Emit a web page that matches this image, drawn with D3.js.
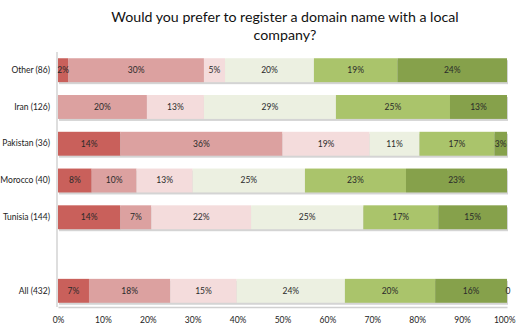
<!DOCTYPE html>
<html>
<head>
<meta charset="utf-8">
<script src="https://cdn.jsdelivr.net/npm/d3@7"></script>
<style>
  html, body { margin: 0; padding: 0; background: #fff; }
  svg { display: block; }
  text { font-family: Lato, "Open Sans", sans-serif; }
</style>
</head>
<body>
<svg id="chart" width="516" height="326"></svg>
<script>
// Row labels (top to bottom); the empty string leaves a gap before the total row
const categories = ["Other (86)", "Iran (126)", "Pakistan (36)", "Morocco (40)", "Tunisia (144)", "", "All (432)"];

// Answer shares in percent, one array per answer level (strongly no ... strongly yes)
const level1 = [2.3, 0, 13.9, 7.5, 13.9, null, 6.9];
const level2 = [30.2, 19.8, 36.1, 10.0, 6.9, null, 18.1];
const level3 = [4.7, 12.7, 19.4, 12.5, 22.2, null, 14.8];
const level4 = [19.8, 29.4, 11.1, 25.0, 25.0, null, 24.1];
const level5 = [18.6, 25.4, 16.7, 22.5, 16.7, null, 20.1];
const level6 = [24.4, 12.7, 2.8, 22.5, 15.3, null, 16.0];
// No-answer share, only reported on the total row
const noAnswer = [null, null, null, null, null, null, 0];

const series = [level1, level2, level3, level4, level5, level6];
const colors = ["#c9605b", "#dca1a0", "#f4dcdc", "#ecf0e1", "#aac46b", "#86a14b"];

const xTicks = [0, 10, 20, 30, 40, 50, 60, 70, 80, 90, 100];

const svg = d3.select("#chart");

const x = d3.scaleLinear().domain([0, 100]).range([58, 507]);
const y = d3.scaleBand().domain(d3.range(categories.length)).range([52, 309]).paddingInner(0.35).paddingOuter(0.17);

// Title
svg.append("text")
  .attr("x", 285).attr("y", 22)
  .attr("text-anchor", "middle")
  .attr("font-size", 14.2).attr("fill", "#111")
  .text("Would you prefer to register a domain name with a local");
svg.append("text")
  .attr("x", 285).attr("y", 40)
  .attr("text-anchor", "middle")
  .attr("font-size", 14.2).attr("fill", "#111")
  .text("company?");

// Build stacked rows
const rows = categories.map((c, i) => {
  let acc = 0;
  const segs = series.map((s, k) => {
    const v = s[i];
    const seg = { row: i, k, v, x0: acc, x1: acc + (v || 0) };
    acc += v || 0;
    return seg;
  });
  return { cat: c, i, segs, total: acc, hasData: series.some(s => s[i] != null) };
}).filter(r => r.hasData);

// Drop shadows beneath each bar
svg.append("g").selectAll("rect")
  .data(rows)
  .join("rect")
  .attr("x", d => x(0) + 1)
  .attr("y", d => y(d.i) + 2)
  .attr("width", d => x(d.total) - x(0))
  .attr("height", y.bandwidth())
  .attr("fill", "#b8b8b8")
  .attr("opacity", 0.6);

const segs = rows.flatMap(r => r.segs).filter(s => s.v > 0);

svg.append("g").selectAll("rect")
  .data(segs)
  .join("rect")
  .attr("x", d => x(d.x0))
  .attr("y", d => y(d.row))
  .attr("width", d => x(d.x1) - x(d.x0))
  .attr("height", y.bandwidth())
  .attr("fill", d => colors[d.k]);

svg.append("g").selectAll("text")
  .data(segs)
  .join("text")
  .attr("x", d => (x(d.x0) + x(d.x1)) / 2)
  .attr("y", d => y(d.row) + y.bandwidth() / 2)
  .attr("dy", "0.35em")
  .attr("text-anchor", "middle")
  .attr("font-size", 8.5)
  .attr("fill", "#2a2a2a")
  .text(d => Math.round(d.v) + "%");

// No-answer value printed just past the end of the bar
svg.append("g").selectAll("text")
  .data(noAnswer.map((v, i) => ({ v, i })).filter(d => d.v != null))
  .join("text")
  .attr("x", d => x(100) + 1)
  .attr("y", d => y(d.i) + y.bandwidth() / 2)
  .attr("dy", "0.35em")
  .attr("text-anchor", "middle")
  .attr("font-size", 8.5)
  .attr("fill", "#2a2a2a")
  .text(d => d.v);

// Axes
const xAxis = svg.append("g")
  .attr("transform", "translate(0,307)")
  .call(d3.axisBottom(x).tickValues(xTicks).tickSize(0).tickPadding(10).tickFormat(d => d + "%"));
xAxis.select(".domain").attr("stroke", "#d0d0d0").attr("stroke-width", 1.5);
xAxis.selectAll("text").attr("font-size", 8.5).attr("fill", "#222").attr("font-family", "Lato, sans-serif");
// keep the last tick label inside the frame
xAxis.selectAll(".tick").filter(d => d === 100).select("text").attr("text-anchor", "end").attr("dx", 8);

const yAxis = svg.append("g")
  .attr("transform", "translate(57,0)")
  .call(d3.axisLeft(y).tickSize(0).tickPadding(7).tickFormat(i => categories[i]));
yAxis.select(".domain").attr("stroke", "#c8c8c8").attr("stroke-width", 1.2)
  .attr("d", "M0,52V307");
yAxis.selectAll("text").attr("font-size", 8.5).attr("fill", "#222").attr("font-family", "Lato, sans-serif");
</script>
</body>
</html>
